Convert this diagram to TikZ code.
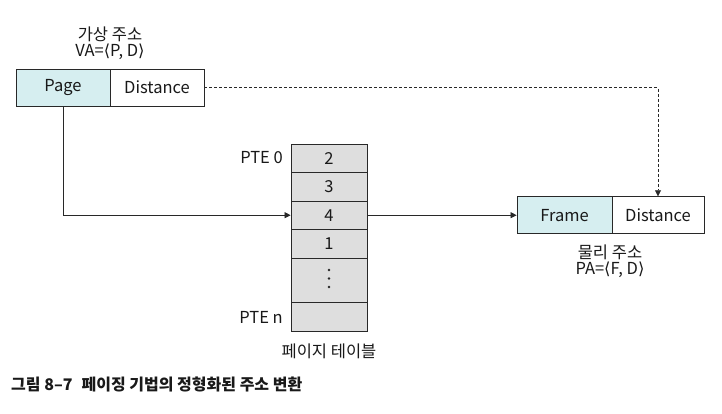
\documentclass[tikz,border=0pt]{standalone}
\usepackage{fontspec}
\setmainfont{Noto Sans CJK KR}
\newfontfamily\symf{DejaVu Sans}
\usetikzlibrary{arrows.meta}
\definecolor{cyanfill}{RGB}{214,238,240}
\definecolor{grayfill}{RGB}{222,222,222}
\definecolor{linec}{RGB}{40,40,40}
\tikzset{
  every node/.style={font=\fontsize{16.5}{18}\selectfont, text=black!90},
  cell/.style={draw=linec, line width=0.8pt, minimum height=37pt, inner sep=0pt},
  tcell/.style={draw=linec, line width=0.8pt, fill=grayfill, minimum width=76pt, inner sep=0pt},
  lbl/.style={inner sep=0pt},
  conn/.style={draw=linec, line width=0.7pt, -{Triangle[length=6pt,width=6pt]}},
}
\newcommand{\la}{{\symf\char"27E8}}
\newcommand{\ra}{{\symf\char"27E9}}
\begin{document}
\begin{tikzpicture}[x=1pt,y=-1pt]
\useasboundingbox (0,0) rectangle (722,413);
% virtual address
\node[cell, fill=cyanfill, minimum width=94pt] (page) at (63,87.5) {Page};
\node[cell, fill=white, minimum width=94pt] (vdist) at (157,87.5) {Distance};
\node[lbl] (valbl) at (110,34) {가상 주소};
\node[lbl] (vaeq) at (110,52) {VA=\la P, D\ra};
% page table
\node[tcell, minimum height=28.5pt] (r0) at (329,158.2) {2};
\node[tcell, minimum height=28.5pt] (r1) at (329,186.7) {3};
\node[tcell, minimum height=28.5pt] (r2) at (329,215.2) {4};
\node[tcell, minimum height=28.5pt] (r3) at (329,243.7) {1};
\node[tcell, minimum height=44.5pt] (r4) at (329,280.2) {};
\node[tcell, minimum height=28.5pt] (r5) at (329,316.7) {};
\fill[black!85] (329,270) circle (1.3pt) (329,278.5) circle (1.3pt) (329,287) circle (1.3pt);
\node[lbl, anchor=east] (pte0) at (283,158) {PTE 0};
\node[lbl, anchor=east] (pten) at (283,317) {PTE n};
\node[lbl] (ptlbl) at (329,351) {페이지 테이블};
% physical address
\node[cell, fill=cyanfill, minimum width=95pt] (frame) at (564.5,215.2) {Frame};
\node[cell, fill=white, minimum width=92pt] (pdist) at (658,215.2) {Distance};
\node[lbl] (palbl) at (610,252) {물리 주소};
\node[lbl] (paeq) at (610,270) {PA=\la F, D\ra};
% connectors
\draw[conn] (page.south) |- (r2.west);
\draw[conn] (r2.east) -- (frame.west);
\draw[conn, dashed, dash pattern=on 3pt off 2pt] (vdist.east) -| (pdist.north);
% caption
\node[lbl, anchor=west, font=\fontsize{16}{18}\selectfont\bfseries] (cap) at (11,384) {그림 8–7\hspace{9pt}페이징 기법의 정형화된 주소 변환};
\end{tikzpicture}
\end{document}
